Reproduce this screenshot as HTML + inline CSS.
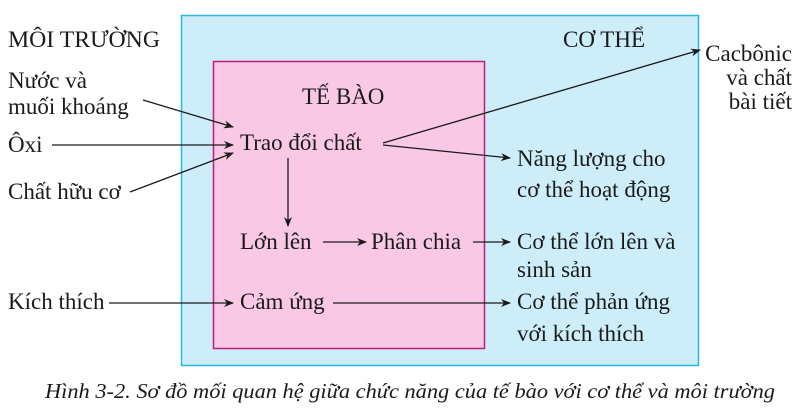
<!DOCTYPE html>
<html><head><meta charset="utf-8"><style>
html,body{margin:0;padding:0;background:#fff;}
svg{display:block;}
text{font-family:"Liberation Serif","DejaVu Serif",serif;font-size:23px;fill:#1a1a1a;}
</style></head><body>
<svg width="800" height="410" viewBox="0 0 800 410" xmlns="http://www.w3.org/2000/svg">
<defs>
<marker id="a" markerWidth="10" markerHeight="8" refX="9" refY="4" orient="auto" markerUnits="userSpaceOnUse">
<path d="M0,0 L10,4 L0,8 L3,4 Z" fill="#1a1a1a"/></marker>
</defs>
<rect x="181.5" y="15.5" width="517" height="350" fill="#cdeef9" stroke="#2bb5e2" stroke-width="1.5"/>
<rect x="213.5" y="61.5" width="271" height="287" fill="#f8c8e4" stroke="#c4197e" stroke-width="1.5"/>
<text x="8" y="47" textLength="152" lengthAdjust="spacingAndGlyphs">MÔI TRƯỜNG</text>
<text x="563" y="47">CƠ THỂ</text>
<text x="302" y="104">TẾ BÀO</text>
<text x="792" y="61" text-anchor="end">Cacbônic</text>
<text x="792" y="85" text-anchor="end">và chất</text>
<text x="792" y="109" text-anchor="end">bài tiết</text>
<text x="8" y="88">Nước và</text>
<text x="8" y="114">muối khoáng</text>
<text x="8" y="152">Ôxi</text>
<text x="8" y="199">Chất hữu cơ</text>
<text x="240" y="150">Trao đổi chất</text>
<text x="517" y="166">Năng lượng cho</text>
<text x="517" y="197">cơ thể hoạt động</text>
<text x="240" y="249">Lớn  lên</text>
<text x="371" y="249">Phân chia</text>
<text x="517" y="249">Cơ thể lớn lên và</text>
<text x="517" y="277">sinh sản</text>
<text x="8" y="309">Kích thích</text>
<text x="240" y="309">Cảm ứng</text>
<text x="517" y="309">Cơ thể phản ứng</text>
<text x="517" y="341">với kích thích</text>
<text x="45" y="398" textLength="730" lengthAdjust="spacingAndGlyphs" style="font-style:italic;font-size:21px">Hình 3-2. Sơ đồ mối quan hệ giữa chức năng của tế bào với cơ thể và môi trường</text>
<g stroke="#1a1a1a" stroke-width="1.3" fill="none" marker-end="url(#a)">
<line x1="143" y1="100" x2="233" y2="127"/>
<line x1="52" y1="145" x2="233" y2="145"/>
<line x1="130" y1="192" x2="233" y2="153"/>
<line x1="383" y1="143" x2="700" y2="50"/>
<line x1="383" y1="145" x2="510" y2="158"/>
<line x1="288" y1="158" x2="288" y2="226"/>
<line x1="323" y1="242" x2="366" y2="242"/>
<line x1="473" y1="242" x2="510" y2="242"/>
<line x1="109" y1="303" x2="233" y2="303"/>
<line x1="333" y1="303" x2="510" y2="303"/>
</g>
</svg>
</body></html>
